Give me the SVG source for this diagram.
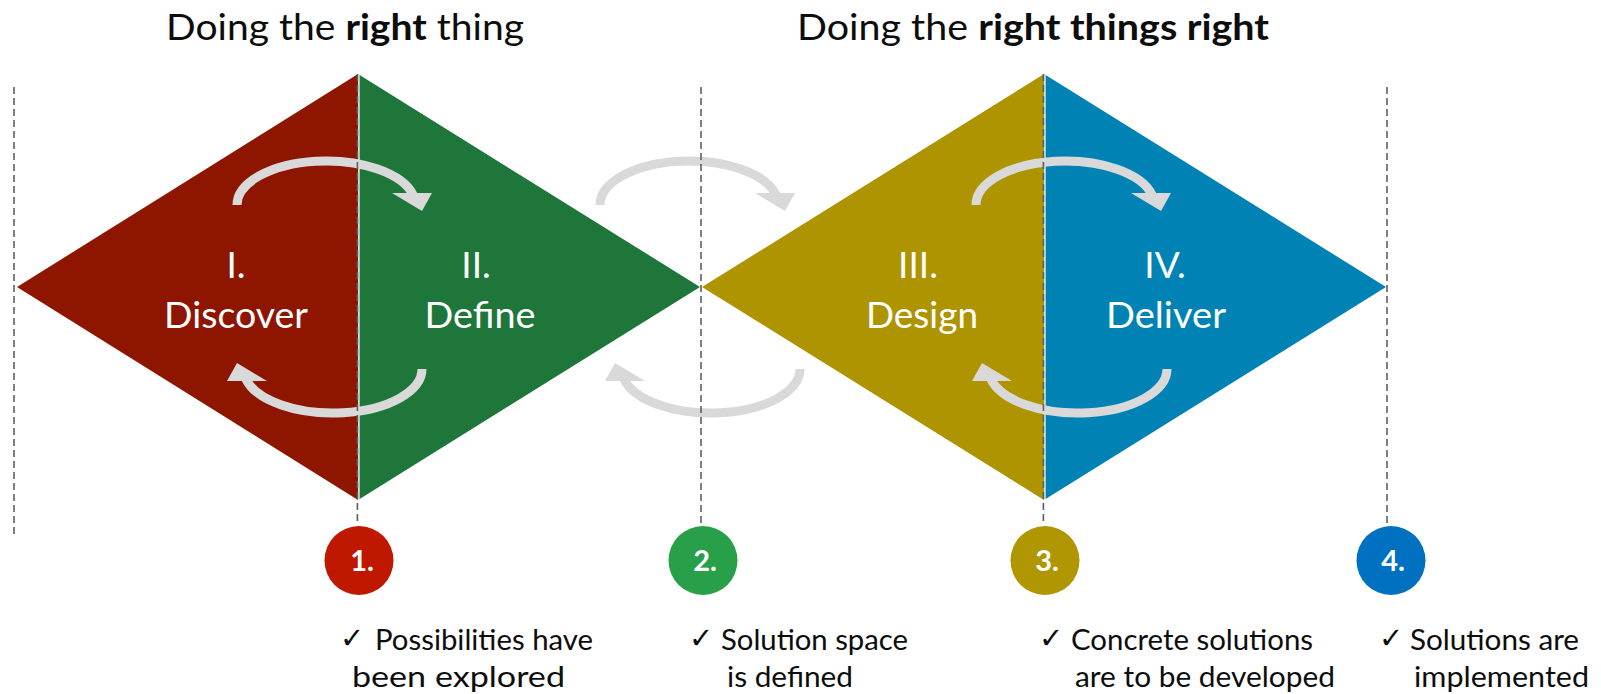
<svg xmlns="http://www.w3.org/2000/svg" width="1601" height="694" viewBox="0 0 1601 694">
  <defs>
    <style>
      .title { font-family: Lato, "Open Sans", sans-serif; font-size: 37px; fill: #0d0d0d; }
      .title .b { font-weight: 700; }
      .phase { font-family: Lato, "Open Sans", sans-serif; font-size: 37px; fill: #ffffff; text-anchor: middle; }
      .num { font-family: Lato, "Open Sans", sans-serif; font-size: 29px; font-weight: 700; fill: #ffffff; text-anchor: middle; }
      .note { font-family: Lato, "Open Sans", sans-serif; font-size: 28px; fill: #0d0d0d; }
      .tick { font-family: "DejaVu Sans", sans-serif; font-size: 29px; font-weight: 700; fill: #0d0d0d; }
      .guide { stroke: #5f5f5f; stroke-width: 1.6; stroke-dasharray: 7 4; fill: none; }
      .sep { stroke: #ffffff; stroke-width: 1.4; }
      .loop { fill: none; stroke: #d9d9d9; stroke-width: 9; }
      .head { fill: #d9d9d9; }
    </style>
  </defs>
  <rect width="1601" height="694" fill="#ffffff"/>

  <!-- headings -->
  <g id="heading-left">
    <text class="title" x="166" y="40" textLength="358" lengthAdjust="spacingAndGlyphs">Doing the <tspan class="b">right</tspan> thing</text>
  </g>
  <g id="heading-right">
    <text class="title" x="797" y="40" textLength="472" lengthAdjust="spacingAndGlyphs">Doing the <tspan class="b">right things right</tspan></text>
  </g>

  <!-- phase triangles -->
  <g id="discover">
    <polygon points="17,287 358,74 358,500" fill="#8e1500"/>
    <text class="phase" x="236" y="278">I.</text>
    <text class="phase" x="236" y="328" textLength="144" lengthAdjust="spacingAndGlyphs">Discover</text>
  </g>
  <g id="define">
    <polygon points="358,74 700,287 358,500" fill="#1e763a"/>
    <text class="phase" x="476" y="278">II.</text>
    <text class="phase" x="480" y="328" textLength="111" lengthAdjust="spacingAndGlyphs">Define</text>
  </g>
  <g id="design">
    <polygon points="702,287 1044,74 1044,500" fill="#ae9400"/>
    <text class="phase" x="918" y="278">III.</text>
    <text class="phase" x="922" y="328" textLength="112" lengthAdjust="spacingAndGlyphs">Design</text>
  </g>
  <g id="deliver">
    <polygon points="1044,74 1386,287 1044,500" fill="#0083b4"/>
    <text class="phase" x="1165" y="278">IV.</text>
    <text class="phase" x="1166" y="328" textLength="120" lengthAdjust="spacingAndGlyphs">Deliver</text>
  </g>

  <!-- thin white seams between paired triangles -->
  <line class="sep" x1="358.9" y1="74" x2="358.9" y2="500"/>
  <line class="sep" x1="1044.9" y1="74" x2="1044.9" y2="500"/>

  <!-- iteration loops -->
  <g id="connectors">
    <path class="loop" d="M237,205 A89.2,44 0 0 1 413.1,195"/>
    <polygon class="head" points="392,193 432,193 422,211"/>
    <path class="loop" d="M422,369 A89.2,44 0 0 1 245.9,379"/>
    <polygon class="head" points="227,381 267,381 237,363"/>

    <path class="loop" d="M600,205 A89.2,44 0 0 1 776.1,195"/>
    <polygon class="head" points="755,193 795,193 785,211"/>
    <path class="loop" d="M800,369 A89.2,44 0 0 1 623.9,379"/>
    <polygon class="head" points="605,381 645,381 615,363"/>

    <path class="loop" d="M976,205 A89.2,44 0 0 1 1152.1,195"/>
    <polygon class="head" points="1131,193 1171,193 1161,211"/>
    <path class="loop" d="M1167,369 A89.2,44 0 0 1 990.9,379"/>
    <polygon class="head" points="972,381 1012,381 982,363"/>
  </g>

  <!-- dashed stage boundaries -->
  <g id="guides">
    <line class="guide" x1="14" y1="87" x2="14" y2="536"/>
    <line class="guide" x1="357.4" y1="74" x2="357.4" y2="523"/>
    <line class="guide" x1="701" y1="87" x2="701" y2="523"/>
    <line class="guide" x1="1043.4" y1="74" x2="1043.4" y2="523"/>
    <line class="guide" x1="1387" y1="87" x2="1387" y2="536"/>
  </g>

  <!-- milestones -->
  <g id="milestone-1">
    <circle cx="359" cy="560.5" r="34.5" fill="#c01800"/>
    <text class="num" x="362" y="571">1.</text>
    <text class="tick" x="340" y="648">✓</text>
    <text class="note" x="375" y="650" textLength="218" lengthAdjust="spacingAndGlyphs">Possibilities have</text>
    <text class="note" x="352" y="687" textLength="213" lengthAdjust="spacingAndGlyphs">been explored</text>
  </g>
  <g id="milestone-2">
    <circle cx="703" cy="560.5" r="34.5" fill="#28a04a"/>
    <text class="num" x="705" y="571">2.</text>
    <text class="tick" x="689" y="648">✓</text>
    <text class="note" x="721" y="650" textLength="187" lengthAdjust="spacingAndGlyphs">Solution space</text>
    <text class="note" x="727" y="687" textLength="126" lengthAdjust="spacingAndGlyphs">is defined</text>
  </g>
  <g id="milestone-3">
    <circle cx="1045" cy="560.5" r="34.5" fill="#b09600"/>
    <text class="num" x="1047" y="571">3.</text>
    <text class="tick" x="1039" y="648">✓</text>
    <text class="note" x="1071" y="650" textLength="242" lengthAdjust="spacingAndGlyphs">Concrete solutions</text>
    <text class="note" x="1075" y="687" textLength="260" lengthAdjust="spacingAndGlyphs">are to be developed</text>
  </g>
  <g id="milestone-4">
    <circle cx="1391" cy="560.5" r="34.5" fill="#0070c0"/>
    <text class="num" x="1393" y="571">4.</text>
    <text class="tick" x="1379" y="648">✓</text>
    <text class="note" x="1410" y="650" textLength="169" lengthAdjust="spacingAndGlyphs">Solutions are</text>
    <text class="note" x="1414" y="687" textLength="175" lengthAdjust="spacingAndGlyphs">implemented</text>
  </g>
</svg>
